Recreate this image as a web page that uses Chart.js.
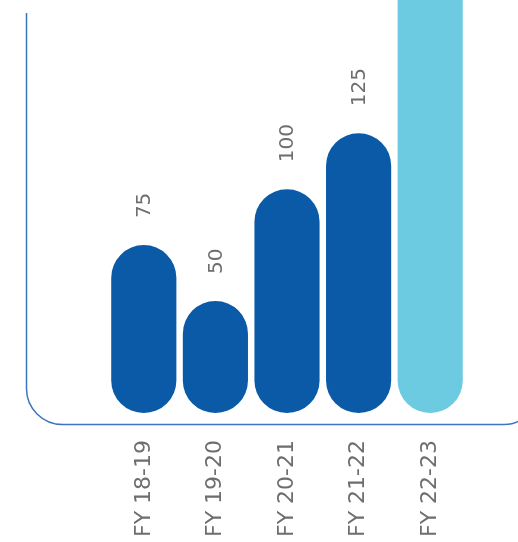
<!DOCTYPE html>
<html>
<head>
<meta charset="utf-8">
<script src="https://cdn.jsdelivr.net/npm/chart.js@4"></script>
<style>
  html, body { margin: 0; padding: 0; background: #fff; }
  #wrap { width: 518px; height: 542px; }
</style>
</head>
<body>
<div id="wrap"><canvas id="myChart"></canvas></div>
<script>
const labels = ['FY 18-19', 'FY 19-20', 'FY 20-21', 'FY 21-22', 'FY 22-23'];
const values = [75, 50, 100, 125, 210];
const valueLabels = ['75', '50', '100', '125', ''];
const barColors = ['#0b5aa8', '#0b5aa8', '#0b5aa8', '#0b5aa8', '#6ccbe0'];

const FONT = '"DejaVu Sans", sans-serif';
const TEXT_COLOR = '#6e6e6e';

// rounded frame line left and below the bars
const framePlugin = {
  id: 'frame',
  beforeDatasetsDraw(chart) {
    const ctx = chart.ctx;
    const x0 = 26.5, y0 = 13, yb = 424.5, r = 36;
    const w = chart.width;
    ctx.save();
    ctx.strokeStyle = '#3a76c0';
    ctx.lineWidth = 1.5;
    ctx.beginPath();
    ctx.moveTo(x0, y0);
    ctx.lineTo(x0, yb - r);
    ctx.arcTo(x0, yb, x0 + r, yb, r);
    ctx.lineTo(w - 14, yb);
    ctx.quadraticCurveTo(w - 5, yb, w, yb - 3);
    ctx.stroke();
    ctx.restore();
  }
};

// vertical value text above each bar
const valuePlugin = {
  id: 'values',
  afterDatasetsDraw(chart) {
    const ctx = chart.ctx;
    const meta = chart.getDatasetMeta(0);
    ctx.save();
    ctx.fillStyle = TEXT_COLOR;
    ctx.font = '20px ' + FONT;
    ctx.textAlign = 'left';
    ctx.textBaseline = 'middle';
    meta.data.forEach((bar, i) => {
      if (!valueLabels[i]) return;
      ctx.save();
      ctx.translate(bar.x + 1, bar.y - 27);
      ctx.rotate(-Math.PI / 2);
      ctx.fillText(valueLabels[i], 0, 0);
      ctx.restore();
    });
    ctx.restore();
  }
};

new Chart(document.getElementById('myChart'), {
  type: 'bar',
  data: {
    labels: labels,
    datasets: [{
      data: values,
      backgroundColor: barColors,
      borderRadius: 40,
      borderSkipped: false,
      categoryPercentage: 1,
      barPercentage: 0.91
    }]
  },
  options: {
    responsive: true,
    maintainAspectRatio: false,
    animation: false,
    layout: { padding: { left: 108, right: 52, top: 0, bottom: 0 } },
    plugins: { legend: { display: false }, tooltip: { enabled: false } },
    scales: {
      x: {
        grid: { display: false, drawTicks: false },
        border: { display: false },
        ticks: {
          minRotation: 90,
          maxRotation: 90,
          padding: 27,
          color: TEXT_COLOR,
          font: { family: FONT, size: 22 }
        },
        afterFit: scale => { scale.height = 129; }
      },
      y: {
        display: false,
        min: 0,
        max: 184.5
      }
    }
  },
  plugins: [framePlugin, valuePlugin]
});
</script>
</body>
</html>
